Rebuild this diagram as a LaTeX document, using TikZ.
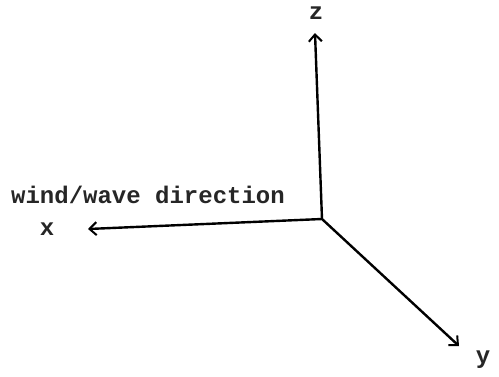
\documentclass[tikz,border=0pt]{standalone}
\usepackage{fontspec}
\setmonofont{Liberation Mono}
\usetikzlibrary{arrows.meta}
\begin{document}
\begin{tikzpicture}[x=1pt,y=-1pt,
  axis/.style={line width=2.4pt,-{Straight Barb[length=7pt,width=13pt,line width=2pt]}},
  lbl/.style={font=\ttfamily\bfseries\fontsize{24}{24}\selectfont,inner sep=0pt,text=black!85}]
\fill[white] (0,0) rectangle (499,376);
\useasboundingbox (0,0) rectangle (499,376);
\coordinate (o) at (322,219);
\coordinate (zt) at (315,33);
\coordinate (xt) at (88,229);
\coordinate (yt) at (459,346);
\draw[axis] (o) -- (zt);
\draw[axis] (o) -- (xt);
\draw[axis] (o) -- (yt);
\node[lbl] (zl) at (316,13) {z};
\node[lbl] (xl) at (47,229) {x};
\node[lbl] (yl) at (483,360) {y};
\node[lbl,anchor=west] (wl) at (11,195) {wind/wave direction};
\end{tikzpicture}
\end{document}
